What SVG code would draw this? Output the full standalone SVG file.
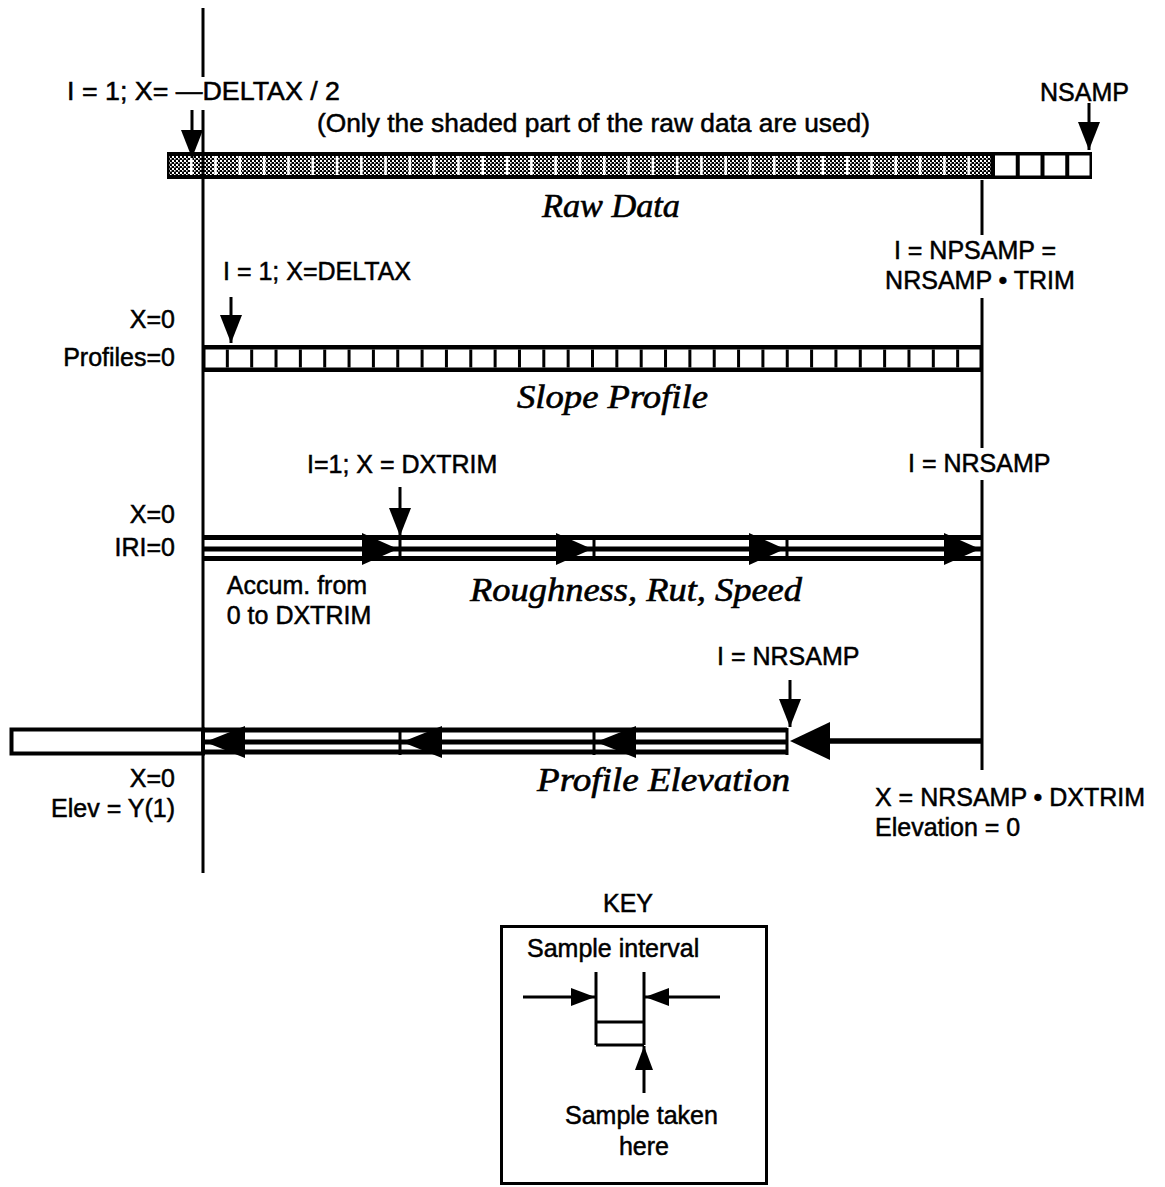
<svg xmlns="http://www.w3.org/2000/svg" width="1165" height="1187" viewBox="0 0 1165 1187">
<defs>
<pattern id="chk" width="4" height="4" patternUnits="userSpaceOnUse">
<rect width="4" height="4" fill="#000"/>
<rect width="2" height="2" fill="#fff"/>
<rect x="2" y="2" width="1.6" height="1.6" fill="#fff"/>
</pattern>
<marker id="ah" viewBox="0 0 28 22" refX="28" refY="11" markerWidth="28" markerHeight="22" markerUnits="userSpaceOnUse" orient="auto">
<path d="M0,0 L28,11 L0,22 z" fill="#000"/>
</marker>
<marker id="ahk" viewBox="0 0 24 18" refX="24" refY="9" markerWidth="24" markerHeight="18" markerUnits="userSpaceOnUse" orient="auto">
<path d="M0,0 L24,9 L0,18 z" fill="#000"/>
</marker>
</defs>
<style>
.t{font-family:"Liberation Sans",Arial,Helvetica,sans-serif;font-size:25px;fill:#000;stroke:#000;stroke-width:0.5}
.e{text-anchor:end}
.m{text-anchor:middle}
.i{font-family:"Liberation Serif","Times New Roman",serif;font-style:italic;font-size:33px;fill:#000;stroke:#000;stroke-width:0.6}
.ln{stroke:#000;stroke-width:3;fill:none}
.ar{stroke:#000;stroke-width:3;fill:none;marker-end:url(#ah)}
.ak{stroke:#000;stroke-width:3;fill:none;marker-end:url(#ahk)}
.tri{fill:#000}
.rail{stroke:#000;stroke-width:5;fill:none}
</style>
<rect width="1165" height="1187" fill="#fff"/>

<g id="raw-data">
<rect x="167" y="152" width="925" height="27" fill="#000"/>
<rect x="169.5" y="156" width="821" height="19" fill="url(#chk)"/>
<line x1="190" y1="165.5" x2="971" y2="165.5" stroke="#fff" stroke-width="19" stroke-dasharray="2.5 21.794"/>
<rect x="995" y="155.5" width="94.5" height="20" fill="#fff"/>
<line x1="1015.75" y1="165.5" x2="1070" y2="165.5" stroke="#000" stroke-width="21" stroke-dasharray="4 20.75"/>
<text class="i" x="542" y="217" textLength="138" lengthAdjust="spacingAndGlyphs">Raw Data</text>
<text class="t" x="317" y="132" textLength="553" lengthAdjust="spacingAndGlyphs">(Only the shaded part of the raw data are used)</text>
<text class="t" x="67" y="100" textLength="273" lengthAdjust="spacingAndGlyphs">I = 1;  X= —DELTAX / 2</text>
<text class="t" x="1040" y="101">NSAMP</text>
</g>

<g id="slope-profile">
<rect x="203" y="345" width="779" height="27" fill="#000"/>
<rect x="205.5" y="349.5" width="774" height="18" fill="#fff"/>
<line x1="225.84" y1="358.5" x2="960" y2="358.5" stroke="#000" stroke-width="18" stroke-dasharray="3 21.344"/>
<text class="i" x="517" y="408" textLength="191" lengthAdjust="spacingAndGlyphs">Slope Profile</text>
<text class="t" x="223" y="280">I = 1; X=DELTAX</text>
<text class="t e" x="175" y="328">X=0</text>
<text class="t e" x="175" y="366">Profiles=0</text>
<text class="t m" x="975" y="259">I = NPSAMP =</text>
<text class="t m" x="980" y="289">NRSAMP • TRIM</text>
</g>

<g id="roughness">
<line class="rail" x1="203" y1="537.5" x2="982" y2="537.5"/>
<line class="rail" x1="203" y1="549" x2="982" y2="549" stroke-width="5.5"/>
<line class="rail" x1="203" y1="558.5" x2="982" y2="558.5"/>
<line class="ln" x1="400" y1="535" x2="400" y2="561"/>
<line class="ln" x1="594" y1="535" x2="594" y2="561"/>
<line class="ln" x1="787" y1="535" x2="787" y2="561"/>
<polygon class="tri" points="398,549 362,533 362,565"/>
<polygon class="tri" points="592,549 556,533 556,565"/>
<polygon class="tri" points="785,549 749,533 749,565"/>
<polygon class="tri" points="980,549 944,533 944,565"/>
<text class="i" x="470" y="601" textLength="332" lengthAdjust="spacingAndGlyphs">Roughness, Rut, Speed</text>
<text class="t" x="307" y="473">I=1; X = DXTRIM</text>
<text class="t e" x="175" y="523">X=0</text>
<text class="t e" x="175" y="556">IRI=0</text>
<text class="t m" x="297" y="594">Accum. from</text>
<text class="t m" x="299" y="624">0 to DXTRIM</text>
<text class="t" x="908" y="472">I = NRSAMP</text>
</g>

<g id="profile-elevation">
<rect x="11.5" y="729.5" width="191.5" height="24" fill="#fff" stroke="#000" stroke-width="4"/>
<line class="rail" x1="203" y1="730" x2="787" y2="730"/>
<line class="rail" x1="203" y1="742" x2="787" y2="742"/>
<line class="rail" x1="203" y1="752" x2="787" y2="752"/>
<line class="ln" x1="400" y1="728" x2="400" y2="755"/>
<line class="ln" x1="594" y1="728" x2="594" y2="755"/>
<line class="ln" x1="787" y1="728" x2="787" y2="755"/>
<polygon class="tri" points="205,742 245,726 245,758"/>
<polygon class="tri" points="402,742 442,726 442,758"/>
<polygon class="tri" points="596,742 636,726 636,758"/>
<line x1="830" y1="741" x2="982" y2="741" stroke="#000" stroke-width="5.5"/>
<polygon class="tri" points="790,741 830,722 830,760"/>
<text class="i" x="537" y="791" textLength="253" lengthAdjust="spacingAndGlyphs">Profile Elevation</text>
<text class="t" x="717" y="665">I = NRSAMP</text>
<text class="t e" x="175" y="787">X=0</text>
<text class="t e" x="175" y="817">Elev = Y(1)</text>
<text class="t" x="875" y="806">X = NRSAMP • DXTRIM</text>
<text class="t" x="875" y="836">Elevation = 0</text>
</g>

<g id="key">
<text class="t m" x="628" y="912">KEY</text>
<rect x="501.5" y="926.5" width="265" height="257" fill="none" stroke="#000" stroke-width="3"/>
<text class="t" x="527" y="957">Sample interval</text>
<line class="ln" x1="596" y1="972" x2="596" y2="1045"/>
<line class="ln" x1="644" y1="972" x2="644" y2="1045"/>
<line class="ln" x1="596" y1="1022" x2="644" y2="1022"/>
<line class="ln" x1="596" y1="1045" x2="644" y2="1045"/>
<line class="ak" x1="523" y1="997" x2="595" y2="997"/>
<line class="ak" x1="720" y1="997" x2="645" y2="997"/>
<line class="ak" x1="644" y1="1093" x2="644" y2="1046"/>
<text class="t" x="565" y="1124">Sample taken</text>
<text class="t m" x="644" y="1155">here</text>
</g>

<g id="connectors">
<line class="ln" x1="203" y1="8" x2="203" y2="77"/>
<line class="ln" x1="203" y1="110" x2="203" y2="873"/>
<line class="ln" x1="982" y1="180" x2="982" y2="235"/>
<line class="ln" x1="982" y1="298" x2="982" y2="448"/>
<line class="ln" x1="982" y1="480" x2="982" y2="770"/>
<line class="ar" x1="192" y1="110" x2="192" y2="158"/>
<line class="ar" x1="1089" y1="103" x2="1089" y2="150"/>
<line class="ar" x1="231" y1="297" x2="231" y2="343"/>
<line class="ar" x1="400" y1="487" x2="400" y2="536"/>
<line class="ar" x1="790" y1="680" x2="790" y2="727"/>
</g>
</svg>
